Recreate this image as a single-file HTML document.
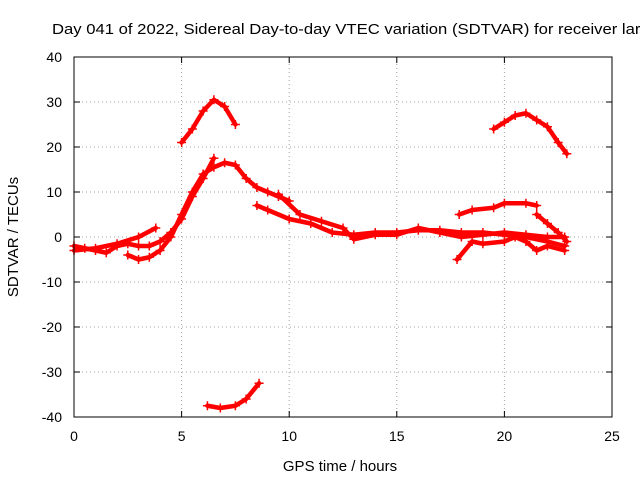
<!DOCTYPE html>
<html><head><meta charset="utf-8"><style>
body{margin:0;background:#fff;overflow:hidden}
svg{display:block;font-family:"Liberation Sans",sans-serif}
</style></head><body>
<svg id="chart" width="640" height="480" viewBox="0 0 640 480" xmlns="http://www.w3.org/2000/svg">
<text x="52" y="34" font-size="15" fill="#000" textLength="594" lengthAdjust="spacingAndGlyphs">Day 041 of 2022, Sidereal Day-to-day VTEC variation (SDTVAR) for receiver larr</text>
<text x="340" y="471" font-size="15" text-anchor="middle">GPS time / hours</text>
<text transform="translate(18,237) rotate(-90)" font-size="15" text-anchor="middle">SDTVAR / TECUs</text>
<g id="grid"></g>
<g id="ticks"></g>
<g id="series"></g>
<rect x="74" y="57" width="538" height="360" fill="none" stroke="#000" stroke-width="1"/>
</svg>
<script>
const xTicks=[0,5,10,15,20,25];
const yTicks=[-40,-30,-20,-10,0,10,20,30,40];
const trackArcA=[[5.0,21],[5.5,24],[6.0,28],[6.5,30.5],[7.0,29],[7.5,25]];
const trackArcB=[[6.2,-37.5],[6.8,-38],[7.5,-37.5],[8.0,-36],[8.6,-32.5]];
const trackArcC=[[19.5,24],[20,25.5],[20.5,27],[21,27.5],[21.5,26],[22,24.5],[22.5,21],[22.9,18.5]];
const trackMain1=[[0,-2],[0.5,-2.5],[1,-3],[1.5,-3.5],[2,-2],[2.5,-1.5],[3,-2],[3.5,-2],[4,-1],[4.5,1],[5,4],[5.5,9],[6,13],[6.5,17.5]];
const trackMain2=[[2.5,-4],[3,-5],[3.5,-4.5],[4,-3],[4.5,0],[5,5],[5.5,10],[6,14],[6.5,15.5],[7,16.5],[7.5,16],[8,13],[8.5,11],[9,10],[9.5,9],[10,8]];
const trackMain3=[[0,-3],[1,-2.5],[2,-1.5],[3,0],[3.8,2]];
const trackLate1=[[8.5,7],[9,6],[10,4],[11,3],[12,1],[13,0.5],[14,1],[15,1],[16,1.5],[17,1.5],[18,1],[19,1],[20,0.5],[21,0],[22,-1],[22.8,-2]];
const trackLate2=[[9.5,9.5],[10.5,5],[11.5,3.5],[12.5,2],[13,-0.5],[14,0.5],[15,0.5],[16,2],[17,1],[18,0],[19,0.5],[20,1],[21,0.5],[22,0],[22.8,0]];
const trackUpperRight=[[17.9,5],[18.5,6],[19.5,6.5],[20,7.5],[21,7.5],[21.5,7]];
const trackLowerRight=[[17.8,-5],[18.5,-1],[19,-1.5],[20,-1],[20.5,0],[21,-1],[21.5,-3],[22,-2],[22.8,-3]];
const trackFall=[[21.5,5],[22,3],[22.5,1],[22.9,-1]];
const tracks=[trackArcA,trackArcB,trackArcC,trackMain1,trackMain2,trackMain3,trackLate1,trackLate2,trackUpperRight,trackLowerRight,trackFall];
const X0=74,X1=612,Y0=417,Y1=57;
const xs=v=>X0+(v-0)/25*(X1-X0);
const ys=v=>Y0-(v+40)/80*(Y0-Y1);
const NS="http://www.w3.org/2000/svg";
const mk=(t,a,p)=>{const e=document.createElementNS(NS,t);for(const k in a)e.setAttribute(k,a[k]);p.appendChild(e);return e;};
const grid=document.getElementById('grid'),ticks=document.getElementById('ticks'),ser=document.getElementById('series');
xTicks.forEach(v=>{const x=xs(v);
 if(v>0&&v<25){const l=mk('line',{x1:x,y1:Y0,x2:x,y2:Y1,stroke:'#a0a0a0','stroke-dasharray':'1,3'},grid);}
 mk('line',{x1:x,y1:Y0,x2:x,y2:Y0-6,stroke:'#000'},ticks);mk('line',{x1:x,y1:Y1,x2:x,y2:Y1+6,stroke:'#000'},ticks);
 const t=mk('text',{x:x,y:Y0+24,'font-size':14,'text-anchor':'middle'},ticks);t.textContent=v;
 });
yTicks.forEach(v=>{const y=ys(v);
 if(v>-40&&v<40){const l=mk('line',{x1:X0,y1:y,x2:X1,y2:y,stroke:'#a0a0a0','stroke-dasharray':'1,3'},grid);}
 mk('line',{x1:X0,y1:y,x2:X0+6,y2:y,stroke:'#000'},ticks);mk('line',{x1:X1,y1:y,x2:X1-6,y2:y,stroke:'#000'},ticks);
 const t=mk('text',{x:X0-12,y:y+5,'font-size':14,'text-anchor':'end'},ticks);t.textContent=v;
 });
tracks.forEach(tr=>{
 const pl=mk('polyline',{points:tr.map(p=>xs(p[0])+','+ys(p[1])).join(' '),fill:'none',stroke:'#f00','stroke-width':4.5,'stroke-linejoin':'round','stroke-linecap':'round'},ser);
 
 
 tr.forEach(p=>{const x=xs(p[0]),y=ys(p[1]);
  const m=mk('path',{d:`M${x-4.5},${y}H${x+4.5}M${x},${y-4.5}V${y+4.5}`,stroke:'#f00','stroke-width':1.5},ser);
  
  });
});
</script>
</body></html>
